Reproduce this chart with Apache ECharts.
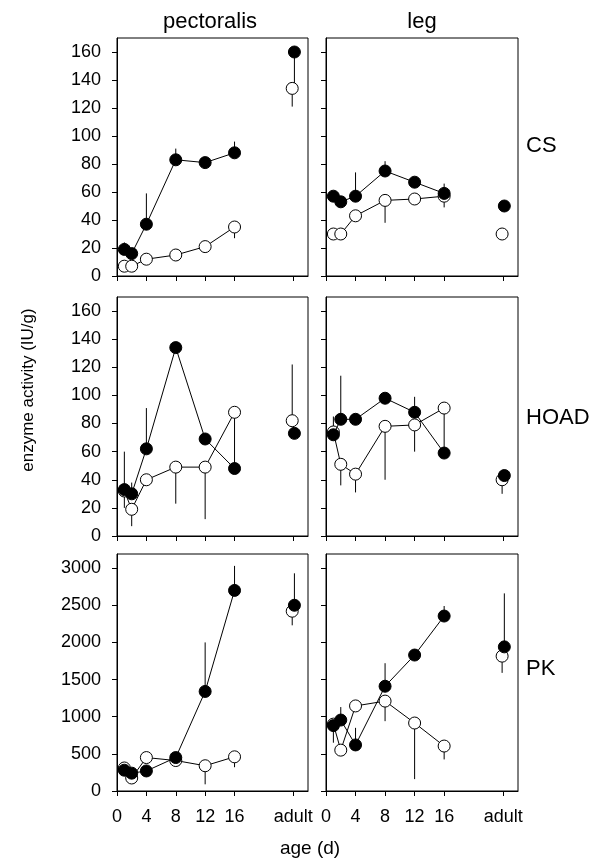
<!DOCTYPE html>
<html>
<head>
<meta charset="utf-8">
<script src="https://cdn.jsdelivr.net/npm/echarts@6/dist/echarts.min.js"></script>
<style>
html,body{margin:0;padding:0;background:#fff;}
#c{width:601px;height:865px;}
</style>
</head>
<body>
<div id="c"></div>
<script>
// ---- data ----
const ages = [1, 2, 4, 8, 12, 16];
const xTickValues = [0, 4, 8, 12, 16, 24];
const xTickLabels = ['0', '4', '8', '12', '16', 'adult'];
const ADULT_X = 24;

const csPectFilled = [19, 16, 37, 83, 81, 88];
const csPectFilledErr = [24, null, 59, 91, null, 96];
const csPectOpen = [7, 7, 12, 15, 21, 35];
const csPectOpenErr = [null, null, null, null, null, 27];
const csPectAdult = { filled: 160, filledErr: 137, open: 134, openErr: 121 };

const csLegFilled = [57, 53, 57, 75, 67, 59];
const csLegFilledErr = [60, 56, 74, 82, null, 66];
const csLegOpen = [30, 30, 43, 54, 55, 57];
const csLegOpenErr = [null, null, null, 38, 51, 49];
const csLegAdult = { filled: 50, filledErr: null, open: 30, openErr: null };

const hoadPectFilled = [33, 30, 62, 134, 69, 48];
const hoadPectFilledErr = [60, 38, 91, null, null, null];
const hoadPectOpen = [32, 19, 40, 49, 49, 88];
const hoadPectOpenErr = [20, 7, null, 23, 12, 48];
const hoadPectAdult = { filled: 73, filledErr: null, open: 82, openErr: 122 };

const hoadLegFilled = [72, 83, 83, 98, 88, 59];
const hoadLegFilledErr = [85, 114, null, null, 99, null];
const hoadLegOpen = [74, 51, 44, 78, 79, 91];
const hoadLegOpenErr = [null, 36, 31, 40, 60, 60];
const hoadLegAdult = { filled: 43, filledErr: null, open: 40, openErr: 30 };

const pkPectFilled = [280, 240, 270, 450, 1340, 2700];
const pkPectFilledErr = [null, null, null, null, 2000, 3030];
const pkPectOpen = [310, 175, 450, 410, 340, 460];
const pkPectOpenErr = [null, null, null, null, 90, 320];
const pkPectAdult = { filled: 2500, filledErr: 2930, open: 2420, openErr: 2230 };

const pkLegFilled = [880, 955, 620, 1410, 1830, 2355];
const pkLegFilledErr = [650, 1130, 850, 1720, null, 2490];
const pkLegOpen = [900, 550, 1145, 1210, 915, 605];
const pkLegOpenErr = [null, null, null, 940, 160, 425];
const pkLegAdult = { filled: 1940, filledErr: 2660, open: 1815, openErr: 1590 };

const enzymeTicks = [0, 20, 40, 60, 80, 100, 120, 140, 160];
const pkTicks = [0, 500, 1000, 1500, 2000, 2500, 3000];

const columnTitles = ['pectoralis', 'leg'];
const rowTitles = ['CS', 'HOAD', 'PK'];
const xAxisTitle = 'age (d)';
const yAxisTitle = 'enzyme activity (IU/g)';

// ---- panels ----
const panels = [
  { row: 0, col: 0, f: csPectFilled, fe: csPectFilledErr, o: csPectOpen, oe: csPectOpenErr, a: csPectAdult, max: 170, ticks: enzymeTicks },
  { row: 0, col: 1, f: csLegFilled, fe: csLegFilledErr, o: csLegOpen, oe: csLegOpenErr, a: csLegAdult, max: 170, ticks: enzymeTicks },
  { row: 1, col: 0, f: hoadPectFilled, fe: hoadPectFilledErr, o: hoadPectOpen, oe: hoadPectOpenErr, a: hoadPectAdult, max: 170, ticks: enzymeTicks },
  { row: 1, col: 1, f: hoadLegFilled, fe: hoadLegFilledErr, o: hoadLegOpen, oe: hoadLegOpenErr, a: hoadLegAdult, max: 170, ticks: enzymeTicks },
  { row: 2, col: 0, f: pkPectFilled, fe: pkPectFilledErr, o: pkPectOpen, oe: pkPectOpenErr, a: pkPectAdult, max: 3190, ticks: pkTicks },
  { row: 2, col: 1, f: pkLegFilled, fe: pkLegFilledErr, o: pkLegOpen, oe: pkLegOpenErr, a: pkLegAdult, max: 3190, ticks: pkTicks }
];

const colLeft = [117, 326];
const colWidth = [191, 192];
const rowTop = [38, 297, 554];
const rowHeight = [238, 239, 237];
const FONT = 'Liberation Sans, Arial, Helvetica, sans-serif';

const grids = [], xAxes = [], yAxes = [], series = [];

function errRender(params, api) {
  const x = api.value(0), v = api.value(1), e = api.value(2);
  const p1 = api.coord([x, v]);
  const p2 = api.coord([x, e]);
  return { type: 'line', shape: { x1: p1[0], y1: p1[1], x2: p2[0], y2: p2[1] }, style: { stroke: '#000', lineWidth: 1 } };
}

panels.forEach((p, i) => {
  grids.push({
    left: colLeft[p.col], top: rowTop[p.row], width: colWidth[p.col], height: rowHeight[p.row],
    show: true, borderColor: '#000', borderWidth: 1, backgroundColor: 'transparent',
    containLabel: false, outerBoundsMode: 'none'
  });
  xAxes.push({
    type: 'value', gridIndex: i, min: 0, max: 26,
    axisLine: { show: true, onZero: false, lineStyle: { color: '#000', width: 1 } },
    axisTick: { show: true, length: 5, customValues: xTickValues, lineStyle: { color: '#000' } },
    axisLabel: {
      show: p.row === 2, customValues: xTickValues, margin: 17,
      color: '#000', fontSize: 18, fontFamily: FONT,
      formatter: v => xTickLabels[xTickValues.indexOf(v)]
    },
    splitLine: { show: false }
  });
  yAxes.push({
    type: 'value', gridIndex: i, min: 0, max: p.max,
    axisLine: { show: true, onZero: false, lineStyle: { color: '#000', width: 1 } },
    axisTick: { show: true, length: 5, customValues: p.ticks, lineStyle: { color: '#000' } },
    axisLabel: {
      show: p.col === 0, customValues: p.ticks, margin: 16, color: '#000', fontSize: 18, fontFamily: FONT,
      formatter: v => String(v)
    },
    splitLine: { show: false }
  });

  const errData = [];
  ages.forEach((x, k) => {
    if (p.oe[k] != null) errData.push([x, p.o[k], p.oe[k]]);
    if (p.fe[k] != null) errData.push([x, p.f[k], p.fe[k]]);
  });
  if (p.a.openErr != null) errData.push([ADULT_X - 0.15, p.a.open, p.a.openErr]);
  if (p.a.filledErr != null) errData.push([ADULT_X + 0.15, p.a.filled, p.a.filledErr]);

  series.push({
    type: 'custom', xAxisIndex: i, yAxisIndex: i, renderItem: errRender,
    data: errData, encode: { x: 0, y: 1 }, z: 1, silent: true, clip: false
  });
  const openStyle = { color: '#fff', borderColor: '#000', borderWidth: 1, opacity: 1 };
  const filledStyle = { color: '#000', borderColor: '#000', borderWidth: 1, opacity: 1 };
  series.push({
    type: 'line', xAxisIndex: i, yAxisIndex: i, z: 2,
    data: ages.map((x, k) => [x, p.o[k]]),
    symbol: 'circle', symbolSize: 12, showSymbol: true,
    lineStyle: { color: '#000', width: 1 }, itemStyle: openStyle, silent: true
  });
  series.push({
    type: 'line', xAxisIndex: i, yAxisIndex: i, z: 3,
    data: ages.map((x, k) => [x, p.f[k]]),
    symbol: 'circle', symbolSize: 12, showSymbol: true,
    lineStyle: { color: '#000', width: 1 }, itemStyle: filledStyle, silent: true
  });
  series.push({
    type: 'scatter', xAxisIndex: i, yAxisIndex: i, z: 2,
    data: [[ADULT_X - 0.15, p.a.open]], symbol: 'circle', symbolSize: 12, itemStyle: openStyle, silent: true
  });
  series.push({
    type: 'scatter', xAxisIndex: i, yAxisIndex: i, z: 3,
    data: [[ADULT_X + 0.15, p.a.filled]], symbol: 'circle', symbolSize: 12, itemStyle: filledStyle, silent: true
  });
});

const graphics = [
  { type: 'text', x: 210, y: 22, style: { text: columnTitles[0], font: '22px ' + FONT, fill: '#000', align: 'center', verticalAlign: 'middle' } },
  { type: 'text', x: 422, y: 22, style: { text: columnTitles[1], font: '22px ' + FONT, fill: '#000', align: 'center', verticalAlign: 'middle' } },
  { type: 'text', x: 526, y: 146, style: { text: rowTitles[0], font: '22px ' + FONT, fill: '#000', align: 'left', verticalAlign: 'middle' } },
  { type: 'text', x: 526, y: 418, style: { text: rowTitles[1], font: '22px ' + FONT, fill: '#000', align: 'left', verticalAlign: 'middle' } },
  { type: 'text', x: 526, y: 669, style: { text: rowTitles[2], font: '22px ' + FONT, fill: '#000', align: 'left', verticalAlign: 'middle' } },
  { type: 'text', x: 310, y: 849, style: { text: xAxisTitle, font: '19px ' + FONT, fill: '#000', align: 'center', verticalAlign: 'middle' } },
  { type: 'text', x: 28, y: 390, rotation: Math.PI / 2, style: { text: yAxisTitle, font: '17px ' + FONT, fill: '#000', align: 'center', verticalAlign: 'middle' } }
];

const chart = echarts.init(document.getElementById('c'), null, { renderer: 'canvas' });
chart.setOption({
  animation: false,
  backgroundColor: '#fff',
  grid: grids, xAxis: xAxes, yAxis: yAxes, series: series,
  graphic: graphics
});
</script>
</body>
</html>
